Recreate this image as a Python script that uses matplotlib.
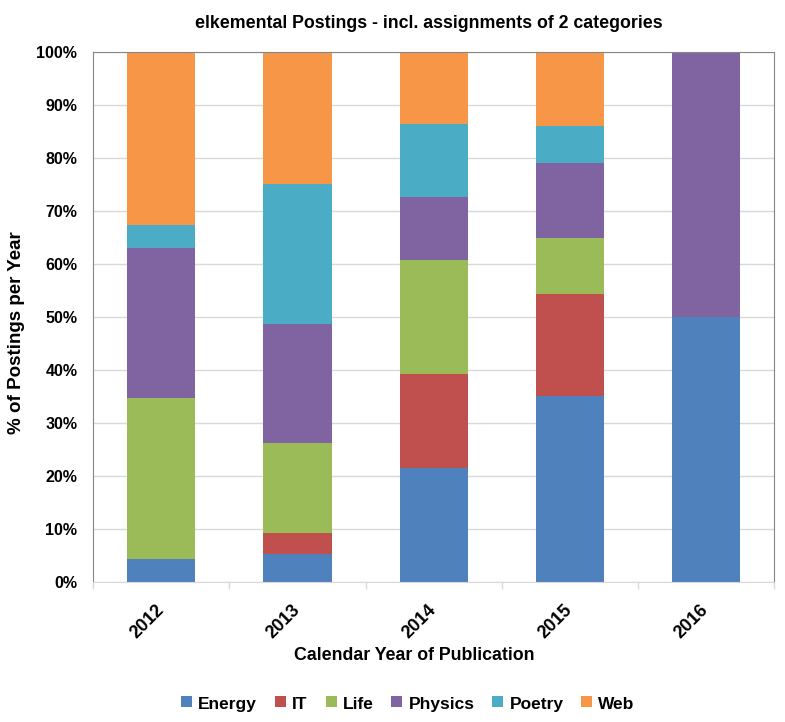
import numpy as np
import matplotlib
matplotlib.use("Agg")
import matplotlib.pyplot as plt
from matplotlib.patches import Rectangle
from matplotlib.ticker import PercentFormatter

plt.rcParams['font.family'] = ['Liberation Sans', 'DejaVu Sans']
plt.rcParams['font.weight'] = 'bold'

# --- data (percent of postings per year) ---
years = ['2012', '2013', '2014', '2015', '2016']
energy = [4.35, 5.26, 21.57, 35.09, 50.0]
it = [0.0, 3.95, 17.65, 19.30, 0.0]
life = [30.43, 17.11, 21.57, 10.53, 0.0]
physics = [28.26, 22.37, 11.76, 14.04, 50.0]
poetry = [4.35, 26.32, 13.73, 7.02, 0.0]
web = [32.61, 25.0, 13.73, 14.04, 0.0]

series = [('Energy', energy, '#4F81BD'),
          ('IT', it, '#C0504D'),
          ('Life', life, '#9BBB59'),
          ('Physics', physics, '#8064A2'),
          ('Poetry', poetry, '#4BACC6'),
          ('Web', web, '#F79646')]

W, H = 785, 722
fig = plt.figure(figsize=(W / 100, H / 100), dpi=100)
ax = fig.add_axes([93.3 / W, 1 - 582.3 / H, (774 - 93.3) / W, (582.3 - 51.7) / H])

x = np.arange(len(years))
bottom = np.zeros(len(years))
for name, vals, col in series:
    vals = np.array(vals)
    ax.bar(x, vals, 0.5, bottom=bottom, color=col, label=name, zorder=2)
    bottom += vals

ax.set_xlim(-0.5, len(years) - 0.5)
ax.set_ylim(0, 100)
ax.set_yticks(np.arange(0, 101, 10))
ax.yaxis.set_major_formatter(PercentFormatter(decimals=0))
ax.grid(axis='y', color='#D9D9D9', linewidth=1, zorder=0)
ax.tick_params(axis='y', length=0, labelsize=11.5, pad=11.5)

ax.set_xticks(x)
ax.set_xticklabels(years, rotation=45, ha='right', va='center',
                   rotation_mode='anchor', fontsize=13)
ax.tick_params(axis='x', which='major', length=0, pad=18)
ax.set_xticks(np.arange(-0.5, len(years)), minor=True)
ax.tick_params(axis='x', which='minor', length=5, color='#D9D9D9', width=1)

for side in ['left', 'right', 'top']:
    ax.spines[side].set_color('#868686')
ax.spines['bottom'].set_color('#D9D9D9')

fig.text(429 / W, 1 - 23 / H, 'elkemental Postings - incl. assignments of 2 categories',
         ha='center', va='center', fontsize=12.8, fontweight='bold')
fig.text(414 / W, 1 - 656 / H, 'Calendar Year of Publication',
         ha='center', va='center', fontsize=12.8, fontweight='bold')
fig.text(17 / W, 1 - 333 / H, '% of Postings per Year', rotation=90,
         ha='center', va='center', fontsize=13.5, fontweight='bold')

# legend in one row, baselines aligned like the original
renderer = fig.canvas.get_renderer()
sq, gap_txt, gap_item = 11, 6, 18
base_y = 709
texts = []
total = 0
for name, _, col in series:
    t = fig.text(0, 1 - base_y / H, name, fontsize=12.5, fontweight='bold', va='baseline')
    w = t.get_window_extent(renderer).width
    texts.append((t, w, col))
    total += sq + gap_txt + w
total += gap_item * (len(series) - 1)
cx = 408 - total / 2
for t, w, col in texts:
    fig.add_artist(Rectangle((cx / W, 1 - (base_y - 2) / H), sq / W, sq / H,
                             transform=fig.transFigure, color=col, lw=0))
    t.set_x((cx + sq + gap_txt) / W)
    cx += sq + gap_txt + w + gap_item

fig.savefig('out.png', dpi=100)
